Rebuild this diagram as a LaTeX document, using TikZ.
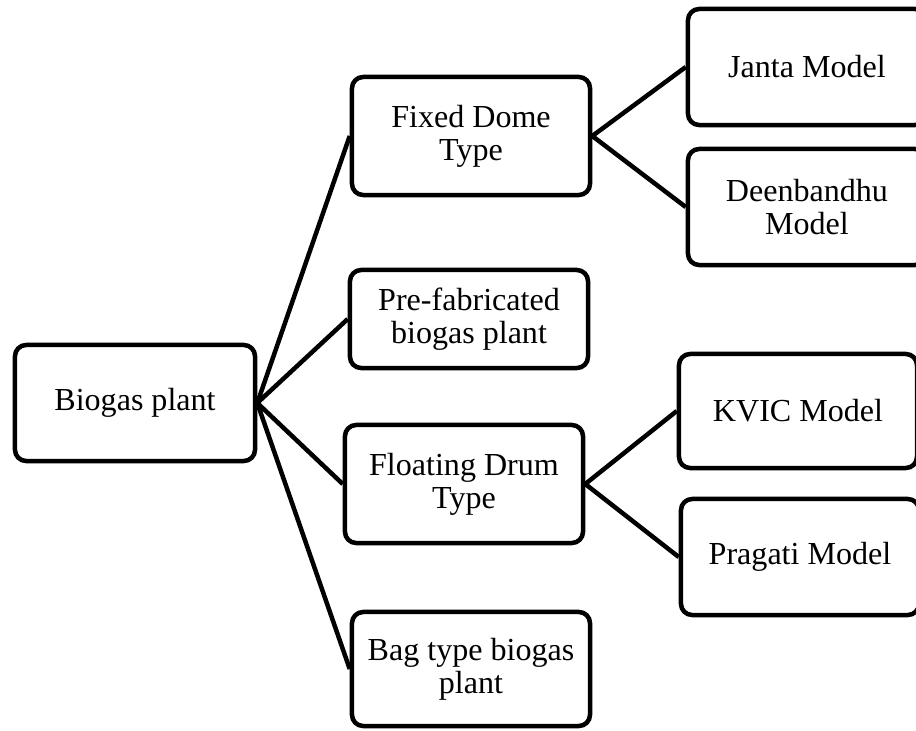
\documentclass[tikz,border=0pt]{standalone}
\usepackage{fontspec}
\setmainfont{Liberation Serif}
\usetikzlibrary{positioning}

\tikzset{
  box/.style={draw, line width=3.2pt, rounded corners=8pt, align=center,
    minimum width=5.95cm, minimum height=2.95cm, inner sep=2pt,
    font=\fontsize{22.8}{23.6}\selectfont},
  link/.style={line width=3.2pt}
}

\begin{document}
\begin{tikzpicture}[x=0.025cm, y=-0.025cm]

      % Frame
      \clip (0,0) rectangle (916,731);

      % Boxes
      \node[box, minimum width=6cm, minimum height=2.9cm] (biogas) at (135,403) {Biogas plant};
      \node[box] (fixed) at (471,136) {Fixed Dome\\Type};
      \node[box, minimum height=2.45cm] (prefab) at (469,319) {Pre-fabricated\\biogas plant};
      \node[box] (floating) at (464,484) {Floating Drum\\Type};
      \node[box, minimum height=2.85cm] (bag) at (471,669) {Bag type biogas\\plant};

      \node[box, minimum height=2.9cm] (janta) at (807,67) {Janta Model};
      \node[box, minimum height=2.9cm] (deen) at (807,207) {Deenbandhu\\Model};
      \node[box, minimum height=2.85cm] (kvic) at (798,411) {KVIC Model};
      \node[box, minimum height=2.9cm] (pragati) at (800,557) {Pragati Model};

      % Lines
      \foreach \n in {fixed,prefab,floating,bag}
        \draw[link] (biogas.east) -- (\n.west);
      \foreach \n in {janta,deen}
        \draw[link] (fixed.east) -- (\n.west);
      \foreach \n in {kvic,pragati}
        \draw[link] (floating.east) -- (\n.west);

  \end{tikzpicture}
\end{document}
